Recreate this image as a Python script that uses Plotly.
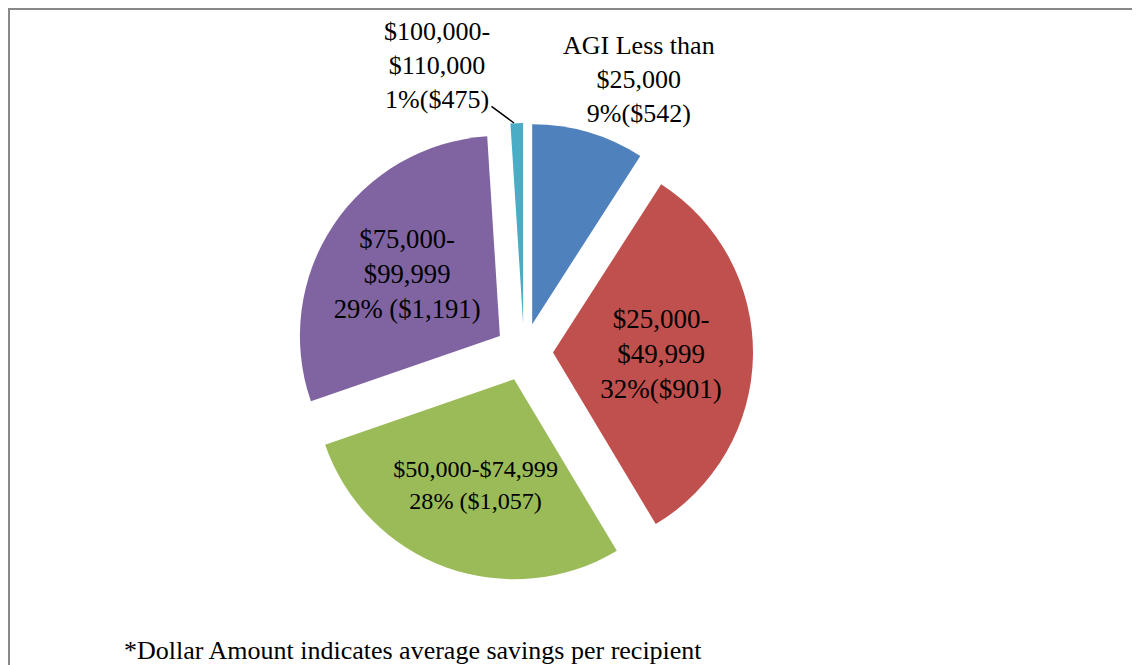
import plotly.graph_objects as go

# income groups (clockwise from 12 o'clock)
groups = ["AGI Less than $25,000", "$25,000-$49,999", "$50,000-$74,999",
          "$75,000-$99,999", "$100,000-$110,000"]
share_pct = [9, 32, 28, 29, 1]
slice_text = [
    "AGI Less than<br>$25,000<br>9%($542)",
    "$25,000-<br>$49,999<br>32%($901)",
    "$50,000-$74,999<br>28% ($1,057)",
    "$75,000-<br>$99,999<br>29% ($1,191)",
    "$100,000-<br>$110,000<br>1%($475)",
]
colors = ["#4F81BD", "#C0504D", "#9BBB59", "#8064A2", "#4BACC6"]
# the two thin slices get their labels outside the pie
inside = [False, True, True, True, False]

FONT = "Liberation Serif, Times New Roman, serif"
W, H = 1140, 665


def px_x(x):
    return x / W


def px_y(y):
    return 1 - y / H


fig = go.Figure(go.Pie(
    labels=groups,
    values=share_pct,
    text=[t if ins else "" for t, ins in zip(slice_text, inside)],
    textinfo="text",
    textposition=["inside" if ins else "none" for ins in inside],
    insidetextorientation="horizontal",
    sort=False,
    direction="clockwise",
    rotation=0,
    pull=0.145,
    automargin=False,
    marker=dict(colors=colors, line=dict(width=0)),
    textfont=dict(family=FONT, size=27, color="black"),
    domain=dict(x=[0.2518, 0.6535], y=[0.1383, 0.8271]),
    showlegend=False,
    hoverinfo="label+percent",
))

label_font = dict(family=FONT, size=26, color="black")
fig.update_layout(
    width=W, height=H,
    margin=dict(l=0, r=0, t=0, b=0, autoexpand=False),
    paper_bgcolor="white",
    font=dict(family=FONT, color="black"),
    shapes=[dict(type="rect", xref="paper", yref="paper",
                 x0=px_x(1), x1=px_x(1130), y0=-0.05, y1=px_y(1),
                 line=dict(color="#888888", width=2))],
    annotations=[
        dict(text=slice_text[0], xref="paper", yref="paper",
             x=px_x(631), y=px_y(72), xanchor="center", yanchor="middle",
             align="center", showarrow=False, font=label_font),
        dict(text=slice_text[4], xref="paper", yref="paper",
             x=px_x(506), y=px_y(115), ax=-77, ay=-57,
             showarrow=True, arrowhead=0, arrowwidth=1.5, arrowcolor="black",
             standoff=0, align="center", font=label_font),
        dict(text="*Dollar Amount indicates average savings per recipient",
             xref="paper", yref="paper", x=px_x(114), y=px_y(642),
             xanchor="left", yanchor="middle", showarrow=False,
             font=dict(family=FONT, size=26, color="black")),
    ],
)

fig.write_html("out.html")
